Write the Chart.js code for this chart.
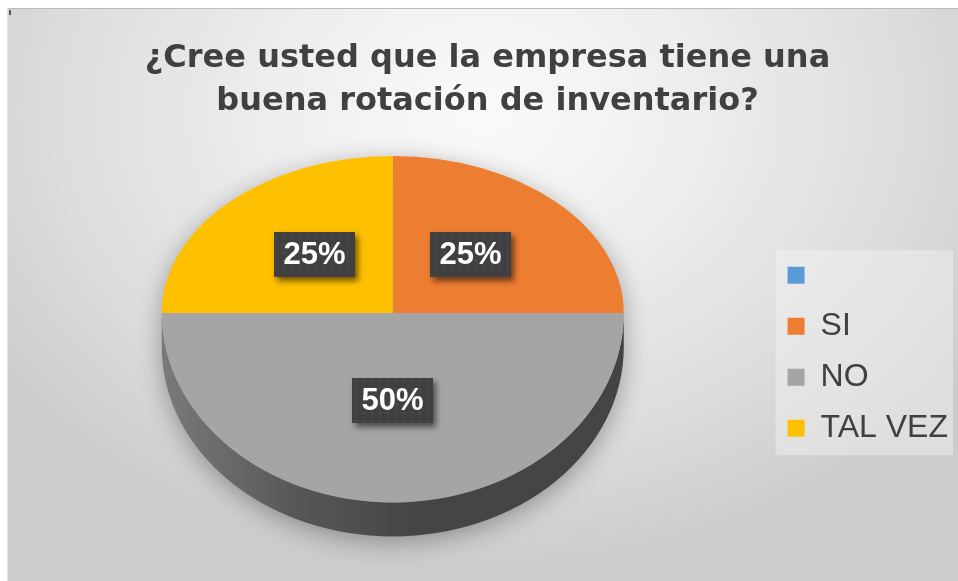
<!DOCTYPE html>
<html lang="es">
<head>
    <meta charset="UTF-8">
    <title>Rotación de inventario</title>
    <script src="https://cdn.jsdelivr.net/npm/chart.js"></script>
    <style>
        body {
            margin: 0;
            background: #ffffff;
        }
        .frame {
            position: absolute;
            left: 7px;
            top: 8px;
            width: 950px;
            height: 572px;
            border-top: 1px solid #bcbcbc;
            border-left: 1px solid #e4e4e4;
            background: radial-gradient(ellipse 62% 80% at 50% 18%, #fafafa 0%, #f0f0f0 30%, #dedede 70%, #cccccc 100%);
        }
        canvas {
            display: block;
        }
        .tick {
            position: absolute;
            left: 9px;
            top: 10px;
            width: 2px;
            height: 5px;
            background: #555;
        }
    </style>
</head>
<body>
    <div class="frame">
        <canvas id="pieChart" width="950" height="572"></canvas>
    </div>
    <div class="tick"></div>

    <script>
        const titleLines = ['¿Cree usted que la empresa tiene una', 'buena rotación de inventario?'];
        const labels = ['', 'SI', 'NO', 'TAL VEZ'];
        const values = [0, 25, 50, 25];
        const colors = ['#5B9BD5', '#ED7D31', '#A5A5A5', '#FFC000'];

        // perspective of the 3D pie
        const pieCenterY = 304;
        const kTop = 0.68;      // squash of the back half
        const kBottom = 0.82;   // squash of the front half
        const depth = 34;

        function shade(hex, f) {
            const n = parseInt(hex.slice(1), 16);
            const r = Math.round(((n >> 16) & 255) * f);
            const g = Math.round(((n >> 8) & 255) * f);
            const b = Math.round((n & 255) * f);
            return 'rgb(' + r + ',' + g + ',' + b + ')';
        }

        const pie3d = {
            id: 'pie3d',
            beforeDatasetDraw(chart, args) {
                const ctx = chart.ctx;
                const arcs = args.meta.data;
                if (!arcs.length) return;
                const { x, y, outerRadius: r } = arcs[0];
                const cy = pieCenterY;

                // soft shadow under the whole pie (shape kept off-canvas)
                ctx.save();
                ctx.translate(-5000, 0);
                ctx.beginPath();
                ctx.ellipse(x, cy, r, r * kTop, 0, Math.PI, 2 * Math.PI);
                ctx.lineTo(x + r, cy + depth);
                ctx.ellipse(x, cy + depth, r, r * kBottom, 0, 0, Math.PI);
                ctx.closePath();
                ctx.shadowColor = 'rgba(0,0,0,0.32)';
                ctx.shadowBlur = 24;
                ctx.shadowOffsetX = 5000;
                ctx.shadowOffsetY = 6;
                ctx.fillStyle = '#000';
                ctx.fill();
                ctx.restore();

                // side walls of the front half
                arcs.forEach(arc => {
                    const a0 = Math.max(arc.startAngle, 0);
                    const a1 = Math.min(arc.endAngle, Math.PI);
                    if (a1 <= a0) return;
                    const base = arc.options.backgroundColor;
                    const g = ctx.createLinearGradient(x - r, 0, x + r, 0);
                    g.addColorStop(0, shade(base, 0.74));
                    g.addColorStop(0.3, shade(base, 0.52));
                    g.addColorStop(0.55, shade(base, 0.42));
                    g.addColorStop(1, shade(base, 0.41));
                    ctx.beginPath();
                    ctx.ellipse(x, cy, r, r * kBottom, 0, a0, a1);
                    ctx.ellipse(x, cy + depth, r, r * kBottom, 0, a1, a0, true);
                    ctx.closePath();
                    ctx.fillStyle = g;
                    ctx.fill();
                });

                // top face, back half and front half squashed differently
                [[0, cy, kTop], [cy, chart.height - cy, kBottom]].forEach(([top, h, k]) => {
                    ctx.save();
                    ctx.beginPath();
                    ctx.rect(0, top, chart.width, h);
                    ctx.clip();
                    ctx.translate(0, cy);
                    ctx.scale(1, k);
                    ctx.translate(0, -y);
                    arcs.forEach(a => a.draw(ctx));
                    ctx.restore();
                });
                return false;
            }
        };

        // dotted texture for the label boxes
        const dots = document.createElement('canvas');
        dots.width = 8;
        dots.height = 8;
        const dctx = dots.getContext('2d');
        dctx.fillStyle = '#404040';
        dctx.fillRect(0, 0, 8, 8);
        dctx.fillStyle = '#4a4a4a';
        dctx.beginPath();
        dctx.arc(4, 4, 1.6, 0, 2 * Math.PI);
        dctx.fill();

        const pctLabels = {
            id: 'pctLabels',
            afterDatasetsDraw(chart) {
                const ctx = chart.ctx;
                const meta = chart.getDatasetMeta(0);
                const data = chart.data.datasets[0].data;
                const total = data.reduce((s, v) => s + v, 0);
                const pattern = ctx.createPattern(dots, 'repeat');
                meta.data.forEach((arc, i) => {
                    const v = data[i];
                    if (!v) return;
                    const mid = (arc.startAngle + arc.endAngle) / 2;
                    const rr = arc.outerRadius * 0.478;
                    const s = Math.sin(mid);
                    const px = arc.x + rr * Math.cos(mid);
                    const py = pieCenterY + rr * s * (s < 0 ? 0.75 : 0.79);
                    const text = Math.round(v / total * 100) + '%';
                    ctx.save();
                    ctx.font = 'bold 31px "Liberation Sans", Arial, sans-serif';
                    const w = Math.round(ctx.measureText(text).width) + 19;
                    const h = 45;
                    const bx = Math.round(px - w / 2);
                    const by = Math.round(py - h / 2);
                    ctx.shadowColor = 'rgba(0,0,0,0.55)';
                    ctx.shadowBlur = 6;
                    ctx.shadowOffsetX = 3;
                    ctx.shadowOffsetY = 4;
                    ctx.fillStyle = '#404040';
                    ctx.fillRect(bx, by, w, h);
                    ctx.shadowColor = 'transparent';
                    ctx.fillStyle = pattern;
                    ctx.fillRect(bx, by, w, h);
                    ctx.fillStyle = '#ffffff';
                    ctx.textAlign = 'center';
                    ctx.textBaseline = 'middle';
                    ctx.fillText(text, bx + w / 2, by + h / 2 + 1);
                    ctx.restore();
                });
            }
        };

        const legendBg = {
            id: 'legendBg',
            beforeDraw(chart) {
                const hb = chart.legend && chart.legend.legendHitBoxes;
                if (!hb || !hb.length) return;
                const ctx = chart.ctx;
                const first = hb[0];
                const last = hb[hb.length - 1];
                const left = first.left - 12;
                ctx.save();
                ctx.fillStyle = 'rgba(245,245,245,0.45)';
                ctx.fillRect(left, first.top - 9, chart.width - 5 - left, last.top + last.height - first.top + 20);
                ctx.restore();
            }
        };

        const chart = new Chart(document.getElementById('pieChart').getContext('2d'), {
            type: 'pie',
            data: {
                labels: labels,
                datasets: [{
                    data: values,
                    backgroundColor: colors,
                    borderWidth: 0,
                    radius: 231
                }]
            },
            options: {
                responsive: false,
                animation: false,
                layout: {
                    padding: { left: 9, bottom: 5 }
                },
                plugins: {
                    title: {
                        display: true,
                        text: titleLines,
                        color: '#404040',
                        font: { family: 'DejaVu Sans', size: 32, weight: 'bold', lineHeight: 1.344 },
                        padding: { top: 28, bottom: 5 }
                    },
                    legend: {
                        position: 'right',
                        title: {
                            display: true,
                            text: ' ',
                            font: { size: 12 },
                            padding: { top: 104, bottom: 0 }
                        },
                        labels: {
                            boxWidth: 17,
                            boxHeight: 17,
                            padding: 19,
                            color: '#404040',
                            font: { family: 'Liberation Sans', size: 32 }
                        }
                    },
                    tooltip: { enabled: false }
                }
            },
            plugins: [legendBg, pie3d, pctLabels]
        });
    </script>
</body>
</html>
